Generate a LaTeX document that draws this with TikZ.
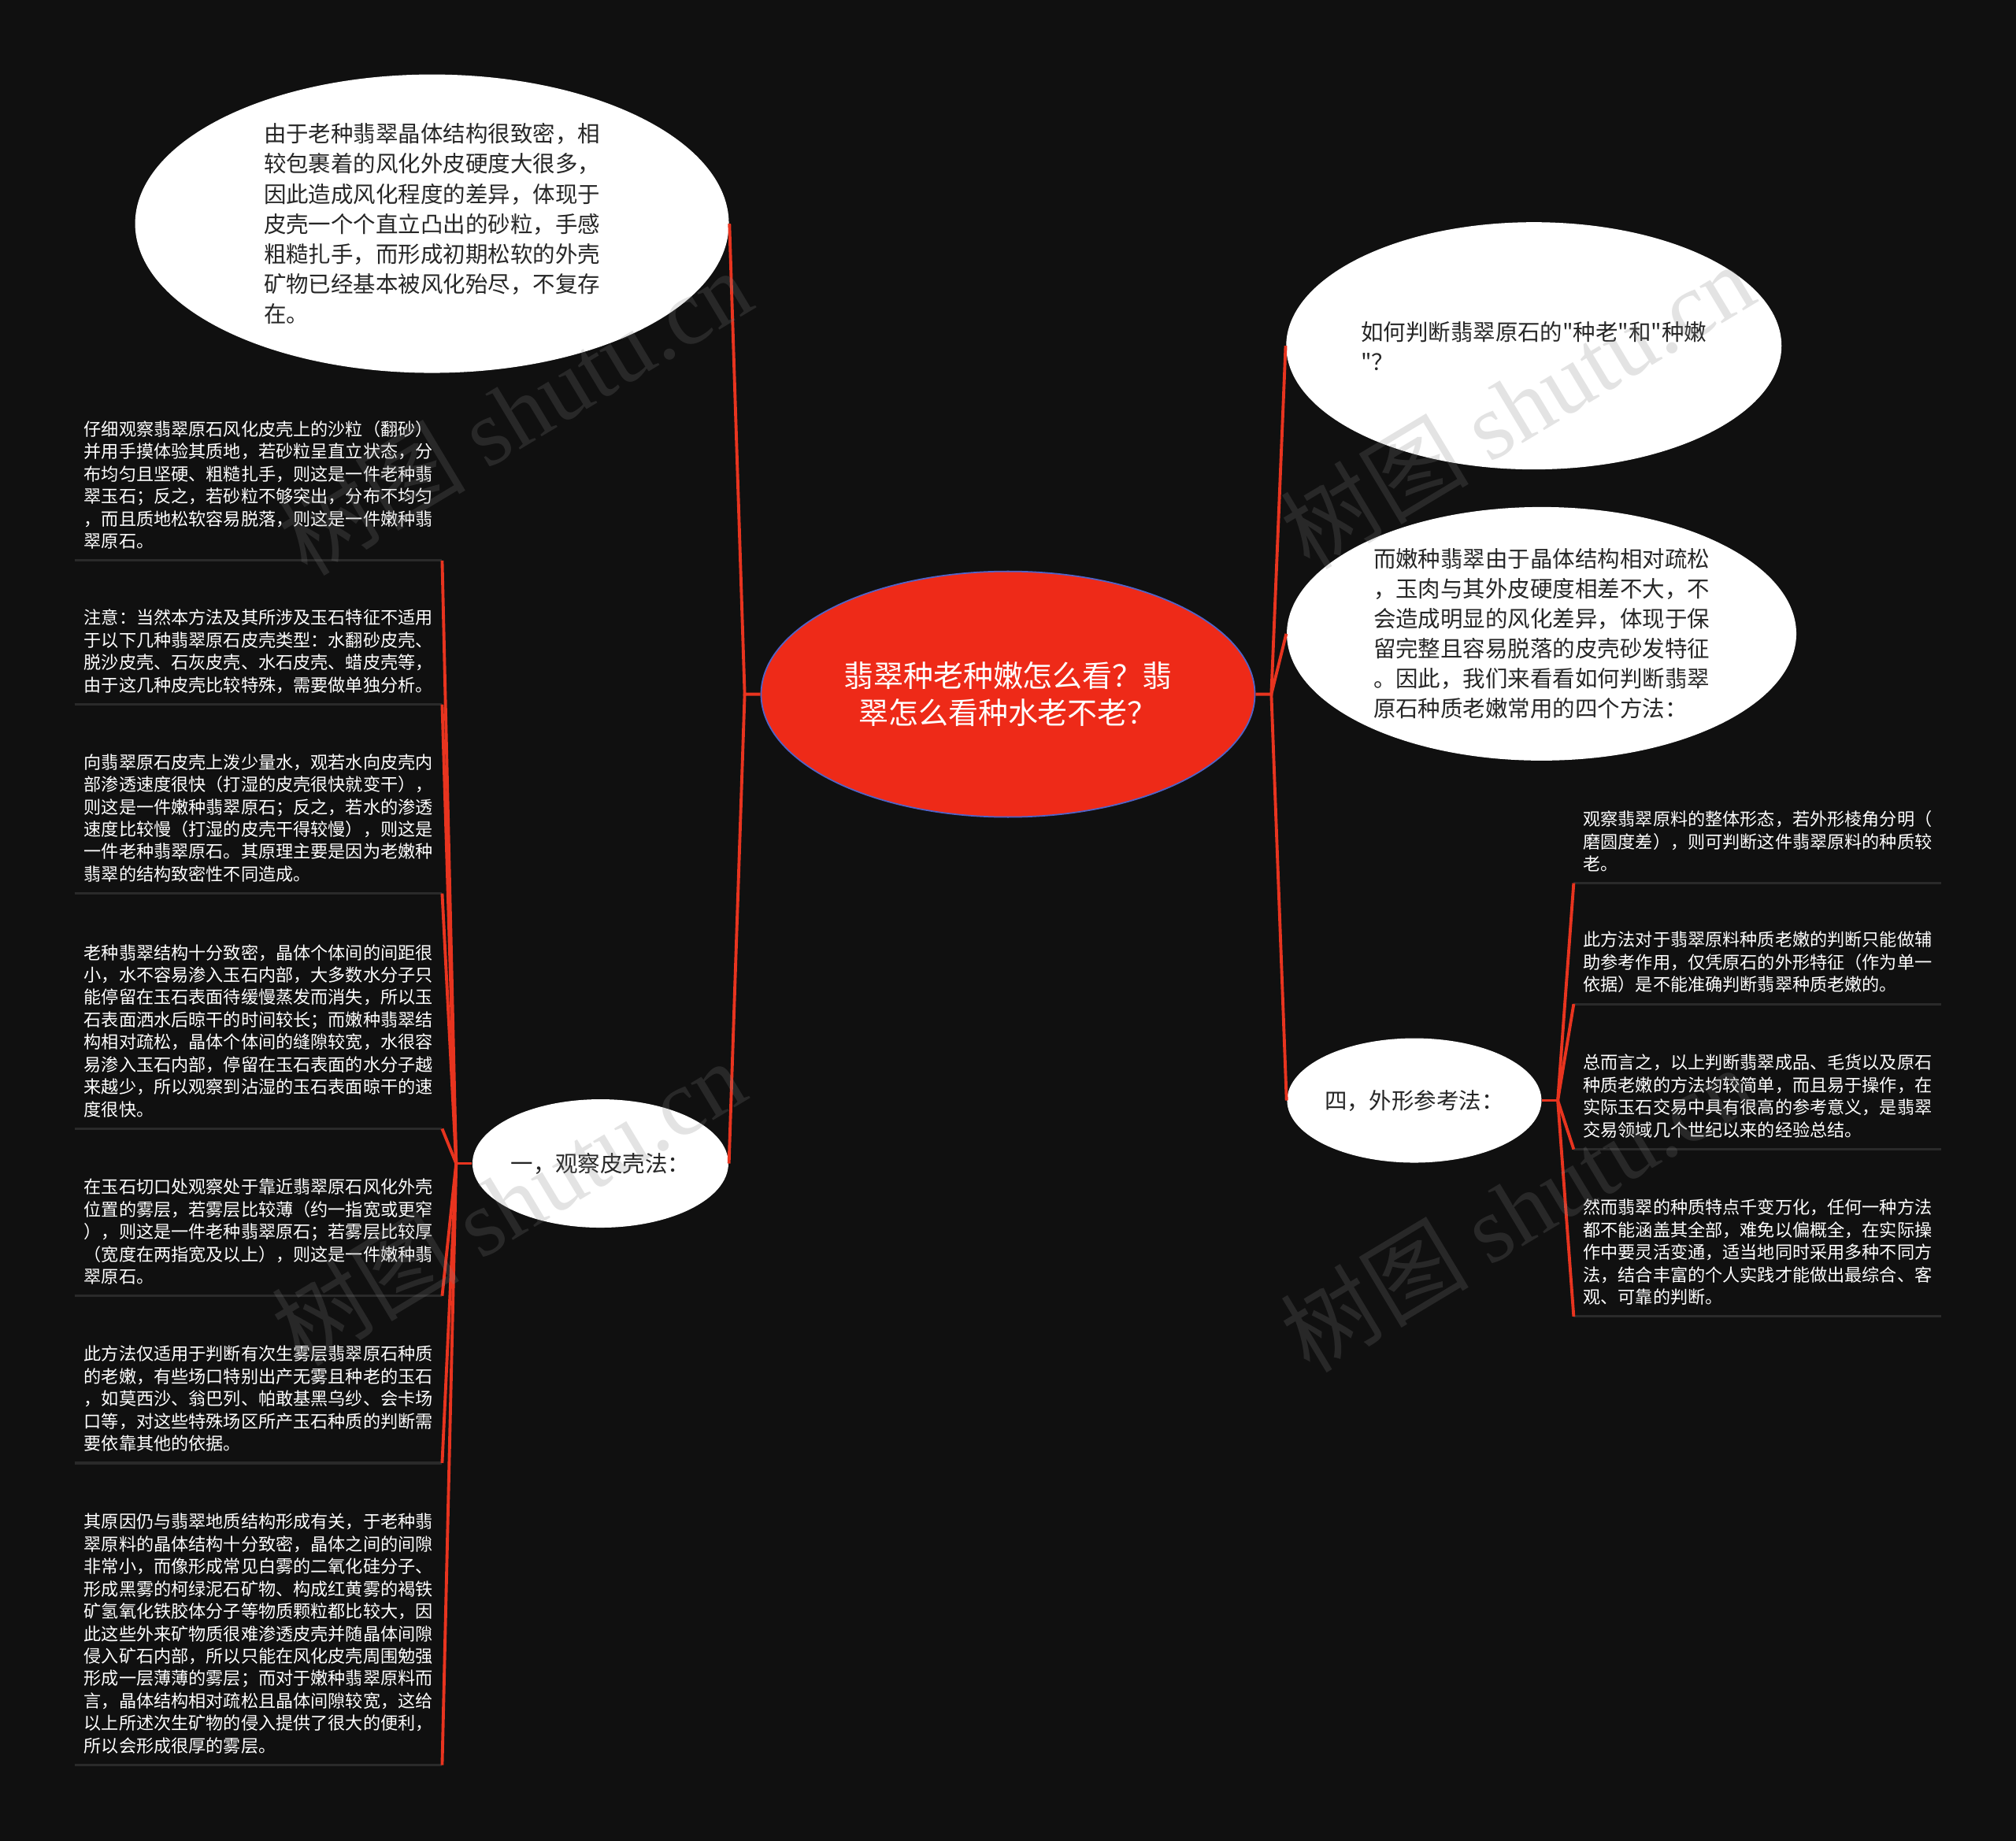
\documentclass[tikz,border=0pt]{standalone}
\usepackage{fontspec}
\setmainfont{Noto Sans CJK SC}
\newfontfamily\plaincjk{Noto Sans CJK SC}
\newfontfamily\wmfont{Liberation Serif}
\usetikzlibrary{shapes.geometric}
\definecolor{bgdark}{HTML}{101010}
\definecolor{linkred}{HTML}{E8341F}
\definecolor{rootred}{HTML}{EE2A18}
\definecolor{rootrim}{HTML}{5163C8}
\definecolor{rulegray}{HTML}{2A2A2A}
\newcommand{\leaffont}{\fontsize{6.3pt}{8.1pt}\selectfont}
\newcommand{\bubblefont}{\fontsize{8.1pt}{10.83pt}\selectfont}

\begin{document}
\begin{tikzpicture}[x=0.16327mm, y=-0.16327mm,
    bubble/.style={ellipse, fill=white, inner sep=0pt, align=left, font=\bubblefont, text=black!85},
    leaf/.style={anchor=south west, text width=44.25mm, inner xsep=1.143mm, inner ysep=1.36mm, align=left, font=\leaffont, text=white},
    link/.style={draw=linkred, line width=1.1pt},
    leafrule/.style={draw=rulegray, line width=0.9pt},
    wmark/.style={rotate=31, text=gray, opacity=0.22, font=\fontsize{34pt}{34pt}\selectfont}]

    % background
    \fill[bgdark] (0,0) rectangle (1568,1432);
    \useasboundingbox (0,0) rectangle (1568,1432);

    % Root topic
    \node[ellipse, fill=rootred, draw=rootrim, line width=0.5pt, inner sep=0pt,
          minimum width=62.7mm, minimum height=31.2mm, align=center, text=white,
          font=\fontsize{10.8pt}{13.4pt}\selectfont] (root) at (784,540) {
        翡翠种老种嫩怎么看？翡\\
        翠怎么看种水老不老？
    };

    % Left side
    \node[bubble, minimum width=75.4mm, minimum height=37.9mm] (oldnote) at (336,174) {
        由于老种翡翠晶体结构很致密，相\\
        较包裹着的风化外皮硬度大很多，\\
        因此造成风化程度的差异，体现于\\
        皮壳一个个直立凸出的砂粒，手感\\
        粗糙扎手，而形成初期松软的外壳\\
        矿物已经基本被风化殆尽，不复存\\
        在。
    };
    \node[bubble, minimum width=32.5mm, minimum height=16.3mm] (skin) at (467,905) {一，观察皮壳法：};

    % Leaves of 一
    \node[leaf] (skin1) at (58,436) {
        仔细观察翡翠原石风化皮壳上的沙粒（翻砂）\\
        并用手摸体验其质地，若砂粒呈直立状态，分\\
        布均匀且坚硬、粗糙扎手，则这是一件老种翡\\
        翠玉石；反之，若砂粒不够突出，分布不均匀\\
        ，而且质地松软容易脱落，则这是一件嫩种翡\\
        翠原石。
    };
    \node[leaf] (skin2) at (58,548) {
        注意：当然本方法及其所涉及玉石特征不适用\\
        于以下几种翡翠原石皮壳类型：水翻砂皮壳、\\
        脱沙皮壳、石灰皮壳、水石皮壳、蜡皮壳等，\\
        由于这几种皮壳比较特殊，需要做单独分析。
    };
    \node[leaf] (skin3) at (58,695) {
        向翡翠原石皮壳上泼少量水，观若水向皮壳内\\
        部渗透速度很快（打湿的皮壳很快就变干），\\
        则这是一件嫩种翡翠原石；反之，若水的渗透\\
        速度比较慢（打湿的皮壳干得较慢），则这是\\
        一件老种翡翠原石。其原理主要是因为老嫩种\\
        翡翠的结构致密性不同造成。
    };
    \node[leaf] (skin4) at (58,878) {
        老种翡翠结构十分致密，晶体个体间的间距很\\
        小，水不容易渗入玉石内部，大多数水分子只\\
        能停留在玉石表面待缓慢蒸发而消失，所以玉\\
        石表面洒水后晾干的时间较长；而嫩种翡翠结\\
        构相对疏松，晶体个体间的缝隙较宽，水很容\\
        易渗入玉石内部，停留在玉石表面的水分子越\\
        来越少，所以观察到沾湿的玉石表面晾干的速\\
        度很快。
    };
    \node[leaf] (skin5) at (58,1008) {
        在玉石切口处观察处于靠近翡翠原石风化外壳\\
        位置的雾层，若雾层比较薄（约一指宽或更窄\\
        ），则这是一件老种翡翠原石；若雾层比较厚\\
        （宽度在两指宽及以上），则这是一件嫩种翡\\
        翠原石。
    };
    \node[leaf] (skin6) at (58,1138) {
        此方法仅适用于判断有次生雾层翡翠原石种质\\
        的老嫩，有些场口特别出产无雾且种老的玉石\\
        ，如莫西沙、翁巴列、帕敢基黑乌纱、会卡场\\
        口等，对这些特殊场区所产玉石种质的判断需\\
        要依靠其他的依据。
    };
    \node[leaf] (skin7) at (58,1373) {
        其原因仍与翡翠地质结构形成有关，于老种翡\\
        翠原料的晶体结构十分致密，晶体之间的间隙\\
        非常小，而像形成常见白雾的二氧化硅分子、\\
        形成黑雾的柯绿泥石矿物、构成红黄雾的褐铁\\
        矿氢氧化铁胶体分子等物质颗粒都比较大，因\\
        此这些外来矿物质很难渗透皮壳并随晶体间隙\\
        侵入矿石内部，所以只能在风化皮壳周围勉强\\
        形成一层薄薄的雾层；而对于嫩种翡翠原料而\\
        言，晶体结构相对疏松且晶体间隙较宽，这给\\
        以上所述次生矿物的侵入提供了很大的便利，\\
        所以会形成很厚的雾层。
    };

    % Right side
    \node[bubble, font=\plaincjk\bubblefont, minimum width=62.9mm, minimum height=31.4mm] (ask) at (1193,269) {
        如何判断翡翠原石的"种老"和"种嫩\\
        "？
    };
    \node[bubble, minimum width=64.7mm, minimum height=32.2mm] (tender) at (1199,493) {
        而嫩种翡翠由于晶体结构相对疏松\\
        ，玉肉与其外皮硬度相差不大，不\\
        会造成明显的风化差异，体现于保\\
        留完整且容易脱落的皮壳砂发特征\\
        。因此，我们来看看如何判断翡翠\\
        原石种质老嫩常用的四个方法：
    };
    \node[bubble, minimum width=32.3mm, minimum height=15.8mm] (shape) at (1100,856) {四，外形参考法：};

    % Leaves of 四
    \node[leaf] (shape1) at (1224,687) {
        观察翡翠原料的整体形态，若外形棱角分明（\\
        磨圆度差），则可判断这件翡翠原料的种质较\\
        老。
    };
    \node[leaf] (shape2) at (1224,781) {
        此方法对于翡翠原料种质老嫩的判断只能做辅\\
        助参考作用，仅凭原石的外形特征（作为单一\\
        依据）是不能准确判断翡翠种质老嫩的。
    };
    \node[leaf] (shape3) at (1224,894) {
        总而言之，以上判断翡翠成品、毛货以及原石\\
        种质老嫩的方法均较简单，而且易于操作，在\\
        实际玉石交易中具有很高的参考意义，是翡翠\\
        交易领域几个世纪以来的经验总结。
    };
    \node[leaf] (shape4) at (1224,1024) {
        然而翡翠的种质特点千变万化，任何一种方法\\
        都不能涵盖其全部，难免以偏概全，在实际操\\
        作中要灵活变通，适当地同时采用多种不同方\\
        法，结合丰富的个人实践才能做出最综合、客\\
        观、可靠的判断。
    };

    % Rules under the leaves
    \foreach \lf in {skin1,skin2,skin3,skin4,skin5,skin6,skin7,shape1,shape2,shape3,shape4}
        \draw[leafrule] (\lf.south west) -- (\lf.south east);

    % Connectors
    \coordinate (lj) at ([xshift=-2mm]root.west);
    \coordinate (rj) at ([xshift=2mm]root.east);
    \coordinate (sj) at ([xshift=-2mm]skin.west);
    \coordinate (hj) at ([xshift=2mm]shape.east);
    \draw[link] (root.west) -- (lj) -- (oldnote.east);
    \draw[link] (lj) -- (skin.east);
    \draw[link] (root.east) -- (rj) -- (ask.west);
    \draw[link] (rj) -- (tender.west);
    \draw[link] (rj) -- (shape.west);
    \draw[link] (skin.west) -- (sj);
    \foreach \lf in {skin1,skin2,skin3,skin4,skin5,skin6,skin7}
        \draw[link] (sj) -- (\lf.south east);
    \draw[link] (shape.east) -- (hj);
    \foreach \lf in {shape1,shape2,shape3,shape4}
        \draw[link] (hj) -- (\lf.south west);

    % Watermarks
    \node[wmark] (wm1) at (400,320) {树图 {\wmfont shutu.cn}};
    \node[wmark] (wm2) at (1180,315) {树图 {\wmfont shutu.cn}};
    \node[wmark] (wm3) at (395,935) {树图 {\wmfont shutu.cn}};
    \node[wmark] (wm4) at (1180,940) {树图 {\wmfont shutu.cn}};
\end{tikzpicture}
\end{document}
